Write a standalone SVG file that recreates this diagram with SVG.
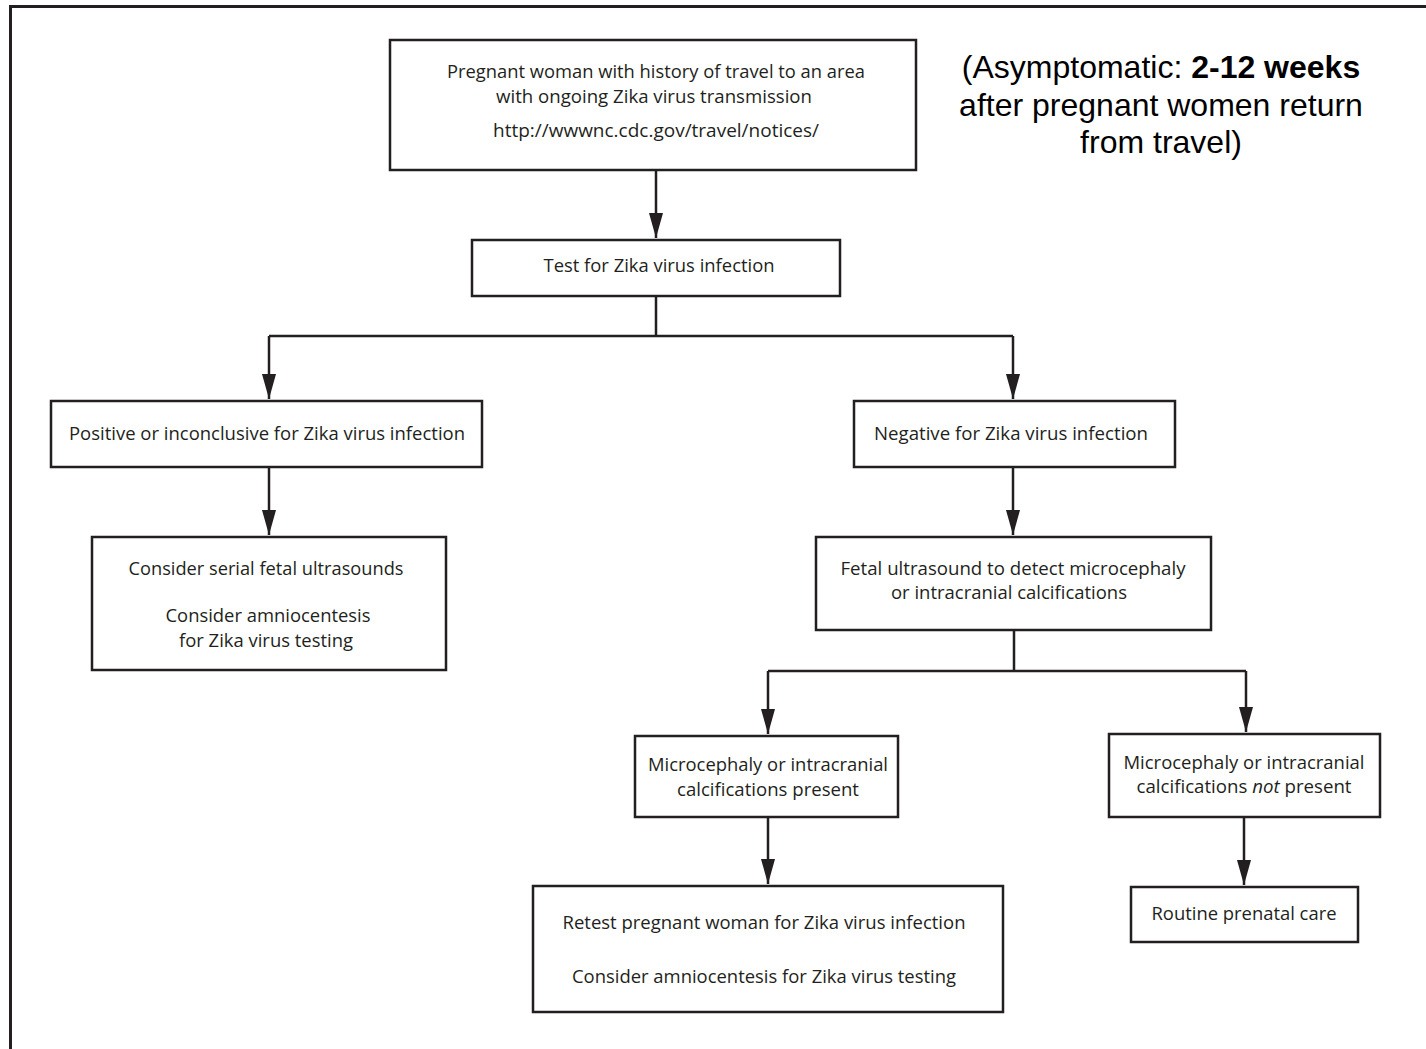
<svg xmlns="http://www.w3.org/2000/svg" width="1426" height="1049" viewBox="0 0 1426 1049">
<style>
.box{fill:#fff;stroke:#231f20;stroke-width:2.5}
.t{font-family:"Open Sans","Noto Sans",sans-serif;font-size:18px;fill:#231f20;text-anchor:middle}
.n{font-family:"Liberation Sans",Arial,sans-serif;font-size:32px;fill:#000;text-anchor:middle}
.c{fill:none;stroke:#231f20;stroke-width:2.5}
</style>
<defs>
<marker id="ah" markerWidth="25" markerHeight="14" refX="25" refY="7" orient="auto" markerUnits="userSpaceOnUse" viewBox="0 0 25 14">
<path d="M0,0 L25,7 L0,14 Z" fill="#231f20"/>
</marker>
</defs>
<rect width="1426" height="1049" fill="#fff"/>
<path d="M10.5,1049 V6.5 H1426" fill="none" stroke="#231f20" stroke-width="3"/>
<g id="connectors">
<path class="c" d="M656,170 V238" marker-end="url(#ah)"/>
<path class="c" d="M656,296 V336 M269,336 H1013"/>
<path class="c" d="M269,336 V399" marker-end="url(#ah)"/>
<path class="c" d="M1013,336 V399" marker-end="url(#ah)"/>
<path class="c" d="M269,467 V535" marker-end="url(#ah)"/>
<path class="c" d="M1013,467 V535" marker-end="url(#ah)"/>
<path class="c" d="M1014,630 V671 M768,671 H1246"/>
<path class="c" d="M768,671 V734" marker-end="url(#ah)"/>
<path class="c" d="M1246,671 V732" marker-end="url(#ah)"/>
<path class="c" d="M768,817 V884" marker-end="url(#ah)"/>
<path class="c" d="M1244,817 V885" marker-end="url(#ah)"/>
</g>
<g id="note">
<text class="n" x="1161" y="78">(Asymptomatic: <tspan font-weight="bold">2-12 weeks</tspan></text>
<text class="n" x="1161" y="116">after pregnant women return</text>
<text class="n" x="1161" y="153">from travel)</text>
</g>
<g id="n1">
<rect class="box" x="390" y="40" width="526" height="130"/>
<text class="t" x="656" y="78" textLength="418" lengthAdjust="spacingAndGlyphs">Pregnant woman with history of travel to an area</text>
<text class="t" x="654" y="103" textLength="316" lengthAdjust="spacingAndGlyphs">with ongoing Zika virus transmission</text>
<text class="t" x="656" y="137" textLength="326" lengthAdjust="spacingAndGlyphs">http://wwwnc.cdc.gov/travel/notices/</text>
</g>
<g id="n2">
<rect class="box" x="472" y="240" width="368" height="56"/>
<text class="t" x="659" y="272" textLength="231" lengthAdjust="spacingAndGlyphs">Test for Zika virus infection</text>
</g>
<g id="n3">
<rect class="box" x="51" y="401" width="431" height="66"/>
<text class="t" x="267" y="440" textLength="396" lengthAdjust="spacingAndGlyphs">Positive or inconclusive for Zika virus infection</text>
</g>
<g id="n4">
<rect class="box" x="854" y="401" width="321" height="66"/>
<text class="t" x="1011" y="440" textLength="274" lengthAdjust="spacingAndGlyphs">Negative for Zika virus infection</text>
</g>
<g id="n5">
<rect class="box" x="92" y="537" width="354" height="133"/>
<text class="t" x="266" y="575" textLength="275" lengthAdjust="spacingAndGlyphs">Consider serial fetal ultrasounds</text>
<text class="t" x="268" y="622" textLength="205" lengthAdjust="spacingAndGlyphs">Consider amniocentesis</text>
<text class="t" x="266" y="647" textLength="174" lengthAdjust="spacingAndGlyphs">for Zika virus testing</text>
</g>
<g id="n6">
<rect class="box" x="816" y="537" width="395" height="93"/>
<text class="t" x="1013" y="575" textLength="345" lengthAdjust="spacingAndGlyphs">Fetal ultrasound to detect microcephaly</text>
<text class="t" x="1009" y="599" textLength="236" lengthAdjust="spacingAndGlyphs">or intracranial calcifications</text>
</g>
<g id="n7">
<rect class="box" x="635" y="736" width="263" height="81"/>
<text class="t" x="768" y="771" textLength="240" lengthAdjust="spacingAndGlyphs">Microcephaly or intracranial</text>
<text class="t" x="768" y="796" textLength="182" lengthAdjust="spacingAndGlyphs">calcifications present</text>
</g>
<g id="n8">
<rect class="box" x="1109" y="734" width="271" height="83"/>
<text class="t" x="1244" y="769" textLength="241" lengthAdjust="spacingAndGlyphs">Microcephaly or intracranial</text>
<text class="t" x="1244" y="793" textLength="215" lengthAdjust="spacingAndGlyphs">calcifications <tspan font-style="italic">not</tspan> present</text>
</g>
<g id="n9">
<rect class="box" x="533" y="886" width="470" height="126"/>
<text class="t" x="764" y="929" textLength="403" lengthAdjust="spacingAndGlyphs">Retest pregnant woman for Zika virus infection</text>
<text class="t" x="764" y="983" textLength="384" lengthAdjust="spacingAndGlyphs">Consider amniocentesis for Zika virus testing</text>
</g>
<g id="n10">
<rect class="box" x="1131" y="887" width="227" height="55"/>
<text class="t" x="1244" y="920" textLength="185" lengthAdjust="spacingAndGlyphs">Routine prenatal care</text>
</g>
</svg>
